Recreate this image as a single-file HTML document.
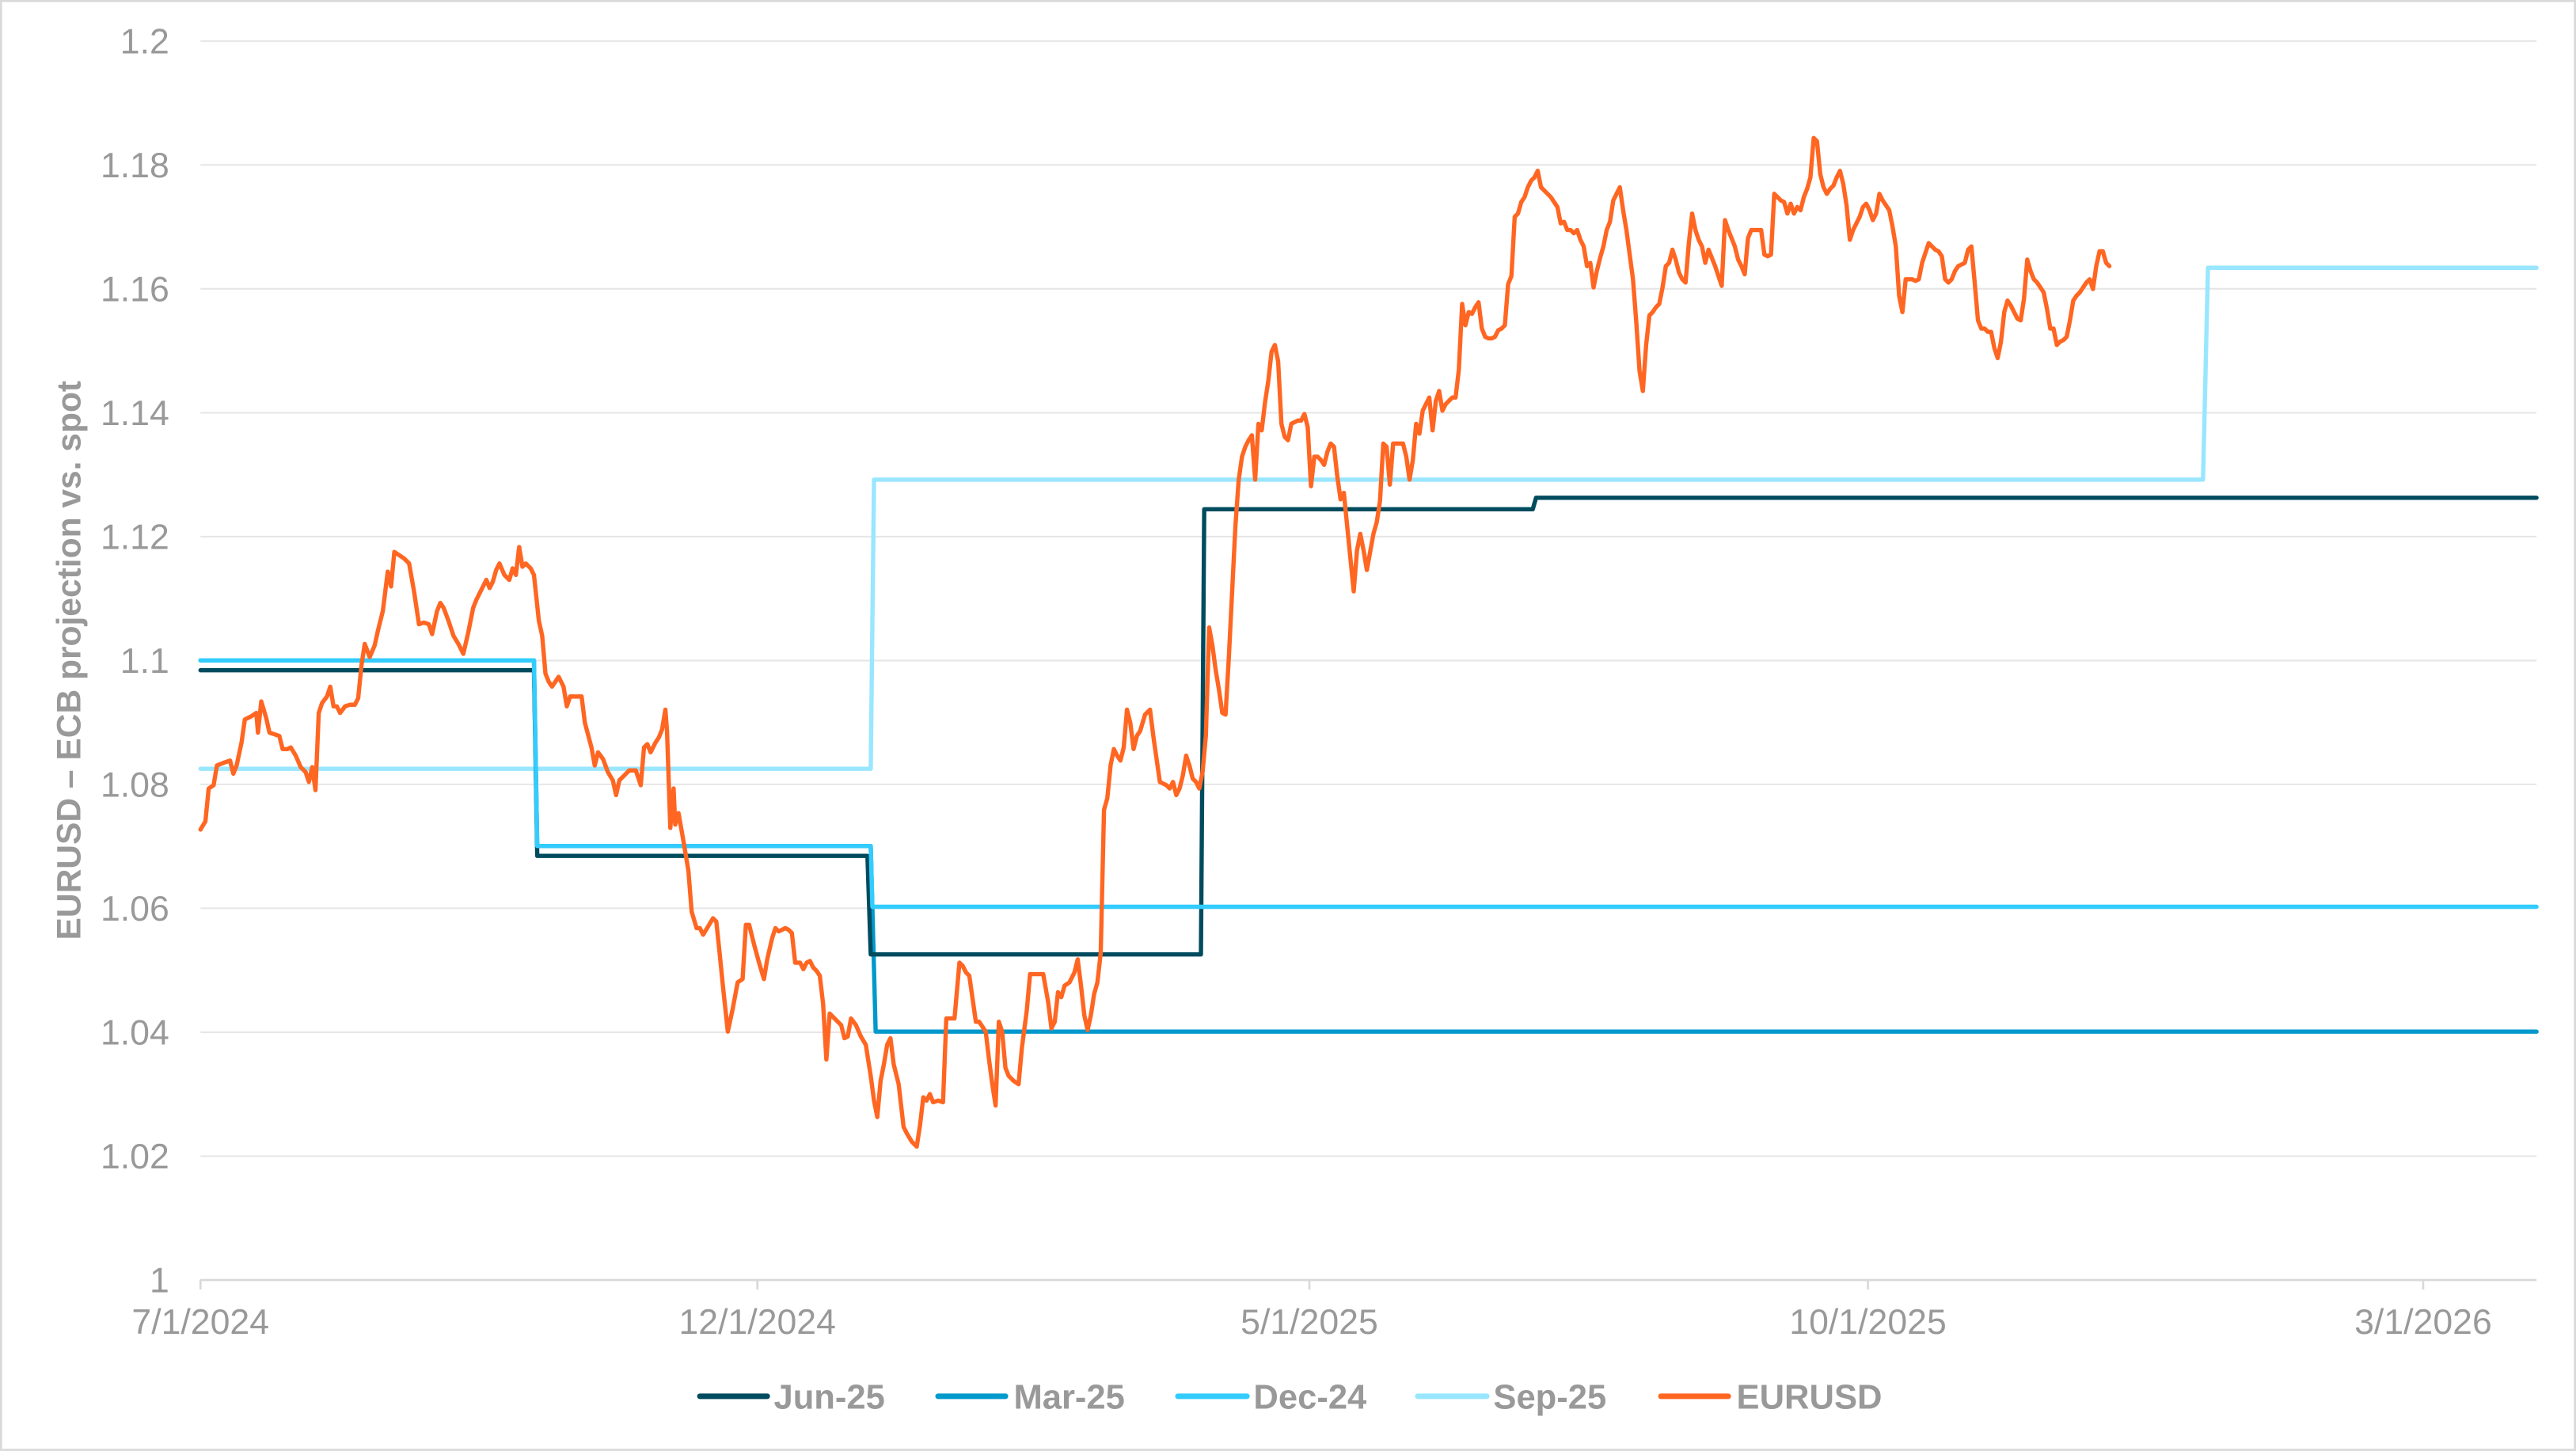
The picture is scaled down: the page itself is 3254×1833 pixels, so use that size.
<!DOCTYPE html>
<html><head><meta charset="utf-8"><style>html,body{margin:0;padding:0;background:#fff}svg{display:block}</style></head>
<body>
<svg width="3254" height="1833" viewBox="0 0 1568 883.3" xmlns="http://www.w3.org/2000/svg" font-family="'Liberation Sans', Arial, sans-serif">
<rect x="0.6" y="0.6" width="1566.8" height="882" fill="#fff" stroke="#d9d9d9" stroke-width="1.3"/>
<g stroke="#e6e6e6" stroke-width="1">
<line x1="122" x2="1544" y1="25" y2="25"/><line x1="122" x2="1544" y1="100.4" y2="100.4"/>
<line x1="122" x2="1544" y1="175.8" y2="175.8"/><line x1="122" x2="1544" y1="251.3" y2="251.3"/>
<line x1="122" x2="1544" y1="326.7" y2="326.7"/><line x1="122" x2="1544" y1="402.1" y2="402.1"/>
<line x1="122" x2="1544" y1="477.5" y2="477.5"/><line x1="122" x2="1544" y1="552.9" y2="552.9"/>
<line x1="122" x2="1544" y1="628.4" y2="628.4"/><line x1="122" x2="1544" y1="703.8" y2="703.8"/>
</g>
<g stroke="#d9d9d9" stroke-width="1.3">
<line x1="122" x2="1544" y1="779.2" y2="779.2"/>
<line x1="122" x2="122" y1="779" y2="785"/><line x1="461" x2="461" y1="779" y2="785"/>
<line x1="797" x2="797" y1="779" y2="785"/><line x1="1137" x2="1137" y1="779" y2="785"/>
<line x1="1475" x2="1475" y1="779" y2="785"/>
</g>
<g fill="#999" font-size="21.5" text-anchor="end">
<text x="103" y="32.5">1.2</text><text x="103" y="108">1.18</text><text x="103" y="183.3">1.16</text>
<text x="103" y="258.8">1.14</text><text x="103" y="334.2">1.12</text><text x="103" y="409.6">1.1</text>
<text x="103" y="485">1.08</text><text x="103" y="560.4">1.06</text><text x="103" y="635.9">1.04</text>
<text x="103" y="711.3">1.02</text><text x="103" y="786.7">1</text>
</g>
<g fill="#999" font-size="21.5" text-anchor="middle">
<text x="122" y="812">7/1/2024</text><text x="461" y="812">12/1/2024</text><text x="797" y="812">5/1/2025</text>
<text x="1137" y="812">10/1/2025</text><text x="1475" y="812">3/1/2026</text>
</g>
<text transform="translate(49,402) rotate(-90)" fill="#999" font-size="20.5" font-weight="bold" text-anchor="middle">EURUSD – ECB projection vs. spot</text>
<g fill="none" stroke-width="2.6" stroke-linejoin="round" stroke-linecap="round">
<polyline stroke="#99e6ff" points="122,468 530,468 532,292 1341,292 1344,163 1544,163"/>
<polyline stroke="#0099cc" points="122,402 325,402 327,515 530,515 533,628 1544,628"/>
<polyline stroke="#004b5e" points="122,408 325,408 327,521 528,521 530,581 731,581 733,310 933,310 935,303 1544,303"/>
<polyline stroke="#33ccff" points="122,402 325,402 327,515 530,515 531,552 1544,552"/>
<polyline stroke="#ff6622" points="122,505 125,500 127,480 130,478 132,466 137,464 140,463 142,471 144,466 147,452 149,438 153,436 156,434 157,446 159,427 162,437 164,446 167,447 170,448 172,456 175,456 177,455 180,460 183,467 186,470 188,476 190,467 192,481 194,434 196,428 199,424 201,418 203,430 205,430 207,434 210,430 213,429 216,429 218,425 220,405 222,392 225,400 228,393 230,384 233,372 236,348 238,357 240,336 243,338 246,340 249,343 252,360 255,380 258,379 261,380 263,386 266,372 268,367 270,370 273,378 276,387 279,392 282,398 285,385 288,370 290,365 292,361 294,357 296,353 298,358 300,354 302,347 304,343 307,350 310,353 312,346 314,350 316,333 318,345 320,343 323,346 325,350 328,378 330,387 332,410 334,415 336,418 340,412 343,418 345,430 347,424 350,424 354,424 356,440 360,455 362,466 364,458 367,462 370,470 373,475 375,484 377,475 380,472 383,469 387,469 390,478 392,455 394,453 396,458 399,452 401,449 403,444 405,432 406,445 408,504 410,480 411,502 413,495 416,512 419,530 421,555 424,565 426,565 428,569 431,564 434,559 436,561 438,580 440,600 443,628 446,614 449,598 452,596 454,563 456,563 459,575 462,586 465,596 467,584 470,571 472,565 474,567 476,566 478,565 480,566 482,568 484,586 487,586 489,590 491,586 493,585 495,589 497,591 499,594 501,611 503,645 505,617 508,620 512,624 514,632 516,631 518,620 521,624 524,631 527,636 530,655 532,670 534,680 536,658 538,648 540,636 542,632 544,648 547,660 550,686 552,690 555,695 558,698 560,685 562,668 564,670 566,666 568,671 571,670 574,671 576,620 578,620 581,620 584,586 586,588 588,592 590,594 592,608 594,622 596,622 598,625 600,628 602,645 604,660 606,673 608,622 610,628 612,650 614,655 617,658 620,660 622,638 625,615 627,593 632,593 635,593 638,610 640,626 642,622 644,604 646,607 648,600 651,598 654,592 656,584 658,600 660,618 662,627 664,618 666,605 668,598 670,580 672,493 674,486 676,466 678,456 680,460 682,463 684,455 686,432 688,440 690,456 692,448 694,445 697,435 700,432 702,448 704,462 706,476 708,477 710,478 712,480 714,476 716,484 718,480 720,472 722,460 724,466 726,474 728,476 730,480 732,470 734,448 736,382 738,393 740,408 742,420 744,434 746,435 748,400 750,360 752,320 754,292 756,278 758,272 760,268 762,265 764,292 766,258 768,262 770,245 772,232 774,214 776,210 778,220 780,258 782,266 784,268 786,258 788,257 790,256 792,256 794,252 796,260 798,296 800,278 802,278 804,280 806,283 808,275 810,270 812,272 814,290 816,304 818,300 820,320 822,340 824,360 826,335 828,325 830,335 832,347 834,336 836,325 838,318 840,305 842,270 844,272 846,295 848,270 850,270 852,270 854,270 856,278 858,292 860,280 862,258 864,264 866,250 868,246 870,242 872,262 874,244 876,238 878,250 880,246 882,244 884,242 886,242 888,225 890,185 892,198 894,190 896,191 898,187 900,184 902,200 904,205 906,206 908,206 910,205 912,201 914,200 916,198 918,173 920,168 922,132 924,130 926,123 928,120 930,114 932,110 934,108 936,104 938,114 940,116 942,118 944,120 946,123 948,126 950,136 952,135 954,140 956,140 958,142 960,140 962,146 964,150 966,162 968,160 970,175 972,165 974,157 976,150 978,140 980,135 982,122 984,118 986,114 988,128 990,140 992,155 994,170 996,196 998,226 1000,238 1002,210 1004,192 1006,190 1008,187 1010,185 1012,175 1014,162 1016,160 1018,152 1020,158 1022,166 1024,170 1026,172 1028,148 1030,130 1032,140 1034,146 1036,150 1038,160 1040,152 1042,157 1044,162 1046,168 1048,174 1050,134 1052,140 1054,145 1056,150 1058,158 1060,162 1062,167 1064,145 1066,140 1068,140 1070,140 1072,140 1074,155 1076,156 1078,155 1080,118 1082,120 1084,122 1086,123 1088,130 1090,124 1092,130 1094,126 1096,128 1098,120 1100,115 1102,108 1104,84 1106,86 1108,106 1110,114 1112,118 1114,115 1116,113 1118,108 1120,104 1122,112 1124,125 1126,146 1128,140 1130,136 1132,132 1134,126 1136,124 1138,128 1140,134 1142,130 1144,118 1146,122 1148,125 1150,128 1152,138 1154,150 1156,180 1158,190 1160,170 1162,170 1164,170 1166,171 1168,170 1170,160 1172,154 1174,148 1176,150 1178,152 1180,153 1182,156 1184,170 1186,172 1188,170 1190,165 1192,162 1194,161 1196,160 1198,152 1200,150 1202,172 1204,195 1206,200 1208,200 1210,202 1212,202 1214,212 1216,218 1218,208 1220,190 1222,183 1224,186 1226,190 1228,194 1230,195 1232,182 1234,158 1236,165 1238,170 1240,172 1242,175 1244,178 1246,188 1248,200 1250,200 1252,210 1254,208 1256,207 1258,205 1260,195 1262,183 1264,180 1266,178 1268,175 1270,172 1272,170 1274,176 1276,162 1278,153 1280,153 1282,160 1284,162"/>
</g>
<g stroke-width="3.4" stroke-linecap="round">
<line x1="426" x2="467" y1="850" y2="850" stroke="#004b5e"/>
<line x1="571" x2="612" y1="850" y2="850" stroke="#0099cc"/>
<line x1="717" x2="759" y1="850" y2="850" stroke="#33ccff"/>
<line x1="863" x2="905" y1="850" y2="850" stroke="#99e6ff"/>
<line x1="1011" x2="1052" y1="850" y2="850" stroke="#ff6622"/>
</g>
<g fill="#999" font-size="21" font-weight="bold">
<text x="471" y="857.5">Jun-25</text><text x="617" y="857.5">Mar-25</text><text x="763" y="857.5">Dec-24</text>
<text x="909" y="857.5">Sep-25</text><text x="1057" y="857.5">EURUSD</text>
</g>
</svg>
</body></html>
